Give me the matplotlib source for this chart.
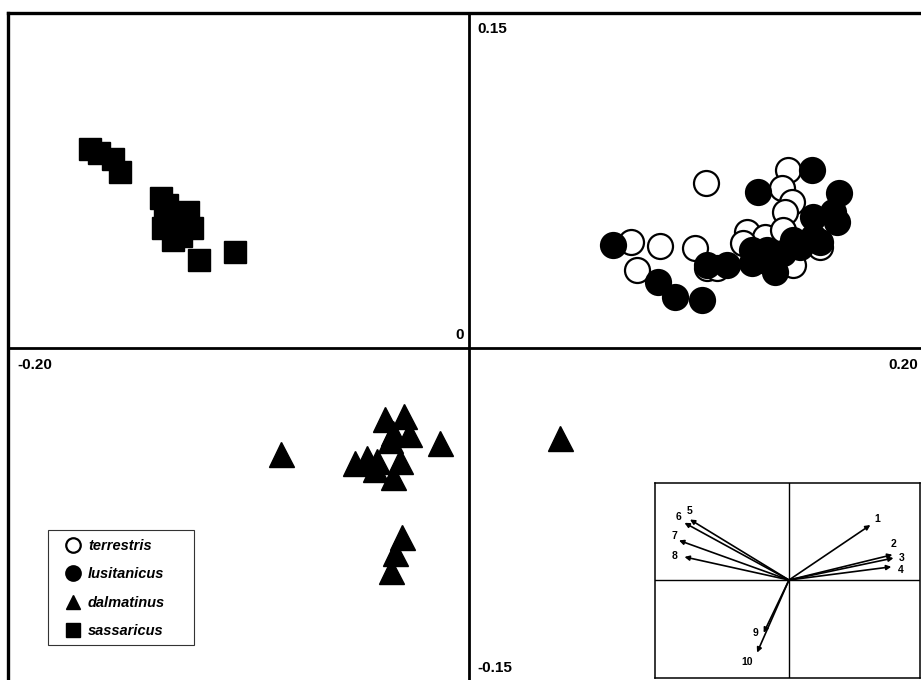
import numpy as np
import matplotlib.pyplot as plt
from matplotlib.patches import Rectangle

# PCA scores
terr_x = [0.1028, 0.1384, 0.1358, 0.1402, 0.1371, 0.0703, 0.0829, 0.0981, 0.0729,
          0.1207, 0.1285, 0.1033, 0.1076, 0.1406, 0.1189, 0.1363, 0.1523]
terr_y = [0.0739, 0.0797, 0.0717, 0.0654, 0.0609, 0.0475, 0.0457, 0.0448, 0.0349,
          0.0520, 0.0497, 0.0358, 0.0358, 0.0372, 0.0470, 0.0529, 0.0452]

lusi_x = [0.0625, 0.1489, 0.1254, 0.1606, 0.0820, 0.0894, 0.1011, 0.1033, 0.1120,
          0.1228, 0.1228, 0.1328, 0.1363, 0.1436, 0.1493, 0.1580, 0.1597, 0.1523,
          0.1493, 0.1406, 0.1293, 0.1263]
lusi_y = [0.0461, 0.0797, 0.0699, 0.0694, 0.0296, 0.0228, 0.0215, 0.0372, 0.0372,
          0.0439, 0.0381, 0.0340, 0.0426, 0.0452, 0.0587, 0.0609, 0.0564, 0.0475,
          0.0497, 0.0484, 0.0439, 0.0394]

dalm_x = [-0.0816, -0.0126, -0.0364, -0.0282, -0.0260, -0.0330, -0.0495, -0.0443, -0.0399,
          -0.0408, -0.0299, -0.0330, -0.0343, -0.0291, -0.0321, -0.0339, 0.0395]
dalm_y = [-0.0475, -0.0426, -0.0318, -0.0305, -0.0385, -0.0381, -0.0515, -0.0493, -0.0506,
          -0.0542, -0.0506, -0.0578, -0.0412, -0.0847, -0.0918, -0.0999, -0.0403]

sass_x = [-0.1645, -0.1606, -0.1545, -0.1515, -0.1337, -0.1311, -0.1219, -0.1202, -0.1328,
          -0.1284, -0.1250, -0.1319, -0.1263, -0.1171, -0.1015]
sass_y = [0.0892, 0.0874, 0.0847, 0.0788, 0.0672, 0.0641, 0.0609, 0.0538, 0.0538,
          0.0484, 0.0502, 0.0582, 0.0573, 0.0394, 0.0430]

# variable loadings (inset)
var_labels = ['1', '2', '3', '4', '5', '6', '7', '8', '9', '10']
load_x = [0.74, 0.94, 0.95, 0.93, -0.90, -0.95, -1.00, -0.95, -0.23, -0.29]
load_y = [0.50, 0.23, 0.20, 0.12, 0.55, 0.52, 0.36, 0.21, -0.48, -0.66]
# label offsets from arrow tips (points)
lab_off = [(5, 4), (1, 8), (6, 0), (7, -2), (0, 6), (-4, 4), (-3, 3), (-7, 1), (-6, 0), (-7, -7)]

plt.rcParams.update({'font.family': 'Liberation Sans', 'font.weight': 'bold'})
fig = plt.figure(figsize=(9.21, 6.8), dpi=100)
ax = fig.add_axes([8 / 921, -3 / 680, 922 / 921, 670 / 680])

ax.plot(terr_x, terr_y, 'o', ms=18, mfc='white', mec='black', mew=1.6, label='terrestris')
ax.plot(lusi_x, lusi_y, 'o', ms=18, mfc='black', mec='black', mew=1.6, label='lusitanicus')
ax.plot(dalm_x, dalm_y, '^', ms=18, color='black', label='dalmatinus')
ax.plot(sass_x, sass_y, 's', ms=16.5, color='black', label='sassaricus')

ax.axhline(0, color='black', lw=2)
ax.axvline(0, color='black', lw=2)
ax.set_xlim(-0.20, 0.20)
ax.set_ylim(-0.15, 0.15)
ax.set_xticks([])
ax.set_yticks([])
for s in ['right', 'bottom']:
    ax.spines[s].set_visible(False)
for s in ['top', 'left']:
    ax.spines[s].set_linewidth(2.4)

ax.text(0.509, 0.976, '0.15', transform=ax.transAxes, fontsize=11, va='center', ha='left')
ax.text(0.509, 0.022, '-0.15', transform=ax.transAxes, fontsize=11, va='center', ha='left')
ax.text(0.010, 0.475, '-0.20', transform=ax.transAxes, fontsize=11, va='center', ha='left')
ax.text(0.987, 0.475, '0.20', transform=ax.transAxes, fontsize=11, va='center', ha='right')
ax.text(0.494, 0.52, '0', transform=ax.transAxes, fontsize=11, va='center', ha='right')

leg = ax.legend(loc='upper left', bbox_to_anchor=(0.052, 0.2300), markerscale=0.58,
                prop={'style': 'italic', 'weight': 'bold', 'size': 10.5}, frameon=False,
                labelspacing=0.98, handlelength=1.0, handletextpad=0.5, borderpad=0.7,
                borderaxespad=0)
ax.add_patch(Rectangle((0.0434, 0.0567), 0.1584, 0.1716, transform=ax.transAxes,
                       fill=False, edgecolor='#333333', lw=0.8))

# inset with loadings
ins = fig.add_axes([655 / 921, 2 / 680, 265 / 921, 195 / 680])
ins.set_xlim(-1.218, 1.191)
ins.set_ylim(-0.891, 0.882)
ins.axhline(0, color='black', lw=1)
ins.axvline(0, color='black', lw=1)
ins.set_xticks([])
ins.set_yticks([])
for s in ins.spines.values():
    s.set_linewidth(1.1)
for lab, lx, ly, off in zip(var_labels, load_x, load_y, lab_off):
    ins.annotate('', xy=(lx, ly), xytext=(0, 0),
                 arrowprops=dict(arrowstyle='-|>', lw=1.2, color='black', mutation_scale=7,
                                 shrinkA=0, shrinkB=0))
    ins.annotate(lab, xy=(lx, ly), xytext=off, textcoords='offset points',
                 fontsize=7.5, ha='center', va='center')

plt.savefig('out.png', dpi=100)
